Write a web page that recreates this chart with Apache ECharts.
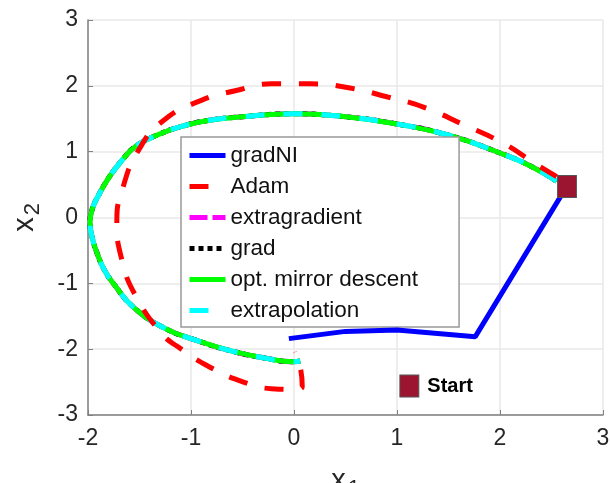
<!DOCTYPE html>
<html>
<head>
<meta charset="UTF-8">
<title>trajectories</title>
<script src="https://cdn.jsdelivr.net/npm/echarts@6/dist/echarts.min.js"></script>
<style>
  body { margin: 0; background: #fff; }
  #main { width: 610px; height: 483px; }
</style>
</head>
<body>
<div id="main"></div>
<script>
// shared path of extragradient / grad / opt. mirror descent / extrapolation
var optX = [2.55, 2.3, 2.0, 1.5, 1.0, 0.5, 0.0, -0.5, -0.85, -1.1, -1.3, -1.53, -1.68, -1.8, -1.9, -1.96, -1.98, -1.96, -1.91, -1.84, -1.75, -1.56, -1.27, -0.94, -0.6, -0.3, 0.0, 0.06];
var optY = [0.55, 0.78, 0.98, 1.25, 1.42, 1.53, 1.575, 1.53, 1.47, 1.38, 1.27, 1.09, 0.85, 0.6, 0.33, 0.12, -0.08, -0.3, -0.55, -0.8, -1.01, -1.36, -1.67, -1.87, -2.03, -2.13, -2.19, -2.18];
// Adam
var adamX = [2.55, 2.34, 2.04, 1.66, 1.25, 0.91, 0.53, 0.16, -0.22, -0.56, -0.9, -1.27, -1.51, -1.66, -1.72, -1.67, -1.53, -1.28, -1.13, -0.82, -0.49, -0.22, 0.0, 0.08, 0.06, 0.01];
var adamY = [0.62, 0.82, 1.12, 1.4, 1.68, 1.83, 1.97, 2.03, 2.03, 1.93, 1.78, 1.47, 1.02, 0.46, -0.05, -0.65, -1.21, -1.77, -1.96, -2.27, -2.5, -2.6, -2.61, -2.57, -2.27, -2.04];
// gradNI
var niX = [2.62, 1.76, 1.0, 0.5, -0.05];
var niY = [0.4, -1.81, -1.71, -1.73, -1.84];
// square markers
var endPt = [2.65, 0.47];
var startPt = [1.12, -2.56];

function pairs(xs, ys) {
  var out = [];
  for (var i = 0; i < xs.length; i++) out.push([xs[i], ys[i]]);
  return out;
}

var optData = pairs(optX, optY);
var font = 'Liberation Sans, Arial, sans-serif';

function lineSeries(name, data, color, type, z, smooth) {
  return {
    name: name,
    type: 'line',
    data: data,
    symbol: 'none',
    smooth: smooth,
    z: z,
    lineStyle: { color: color, width: 5, type: type, cap: 'butt' },
    itemStyle: { color: color }
  };
}

var nameRich = {
  a: { fontSize: 29, fontFamily: font, color: '#262626' },
  b: { fontSize: 22, fontFamily: font, color: '#262626', padding: [16, 0, 0, 2] }
};

var chart = echarts.init(document.getElementById('main'));
chart.setOption({
  backgroundColor: '#fff',
  animation: false,
  grid: { left: 88, right: 7, top: 20, bottom: 68, outerBoundsMode: 'none' },
  xAxis: {
    type: 'value', min: -2, max: 3, interval: 1,
    name: '{a|x}{b|1}', nameLocation: 'middle', nameGap: 47,
    nameTextStyle: { rich: nameRich },
    axisLine: { show: true, onZero: false, lineStyle: { color: '#808080', width: 1.5 } },
    axisTick: { inside: true, length: 5, lineStyle: { color: '#808080' } },
    axisLabel: { fontSize: 23, fontFamily: font, color: '#262626', margin: 12 },
    splitLine: { show: true, lineStyle: { color: '#e8e8e8', width: 1.5 } }
  },
  yAxis: {
    type: 'value', min: -3, max: 3, interval: 1,
    name: '{a|x}{b|2}', nameLocation: 'middle', nameGap: 44, nameRotate: 90,
    nameTextStyle: { rich: nameRich },
    axisLine: { show: true, onZero: false, lineStyle: { color: '#808080', width: 1.5 } },
    axisTick: { inside: true, length: 5, lineStyle: { color: '#808080' } },
    axisLabel: { fontSize: 23, fontFamily: font, color: '#262626', margin: 10 },
    splitLine: { show: true, lineStyle: { color: '#e8e8e8', width: 1.5 } }
  },
  legend: {
    orient: 'vertical',
    left: 181, top: 137,
    padding: [7, 41, 5, 6],
    itemWidth: 36, itemHeight: 14, itemGap: 8,
    backgroundColor: '#fff',
    borderColor: '#999', borderWidth: 1.5, borderRadius: 0,
    itemStyle: { opacity: 0 },
    lineStyle: { width: 5 },
    textStyle: { fontSize: 22.5, lineHeight: 22, fontFamily: font, color: '#111' },
    data: ['gradNI', 'Adam', 'extragradient', 'grad', 'opt. mirror descent', 'extrapolation']
  },
  series: [
    lineSeries('gradNI', pairs(niX, niY), '#0000ff', 'solid', 5, false),
    lineSeries('Adam', pairs(adamX, adamY), '#ff0000', [19, 18], 4, 0.5),
    lineSeries('extragradient', optData, '#ff00ff', [18, 5], 2, 0.5),
    lineSeries('grad', optData, '#000000', [5, 4], 2, 0.5),
    lineSeries('opt. mirror descent', optData, '#00ff00', 'solid', 3, 0.5),
    lineSeries('extrapolation', optData, '#00ffff', [19, 19], 3, 0.5),
    {
      name: 'markers',
      type: 'scatter',
      z: 6,
      symbol: 'rect',
      symbolSize: [19, 22],
      itemStyle: { color: '#9b1530', borderColor: '#555', borderWidth: 1, opacity: 1 },
      label: {
        show: true, position: 'right', distance: 8,
        fontSize: 20, fontWeight: 'bold', fontFamily: font, color: '#000',
        formatter: function (p) { return p.dataIndex === 1 ? 'Start' : ''; }
      },
      data: [endPt, startPt]
    }
  ]
});
</script>
</body>
</html>
